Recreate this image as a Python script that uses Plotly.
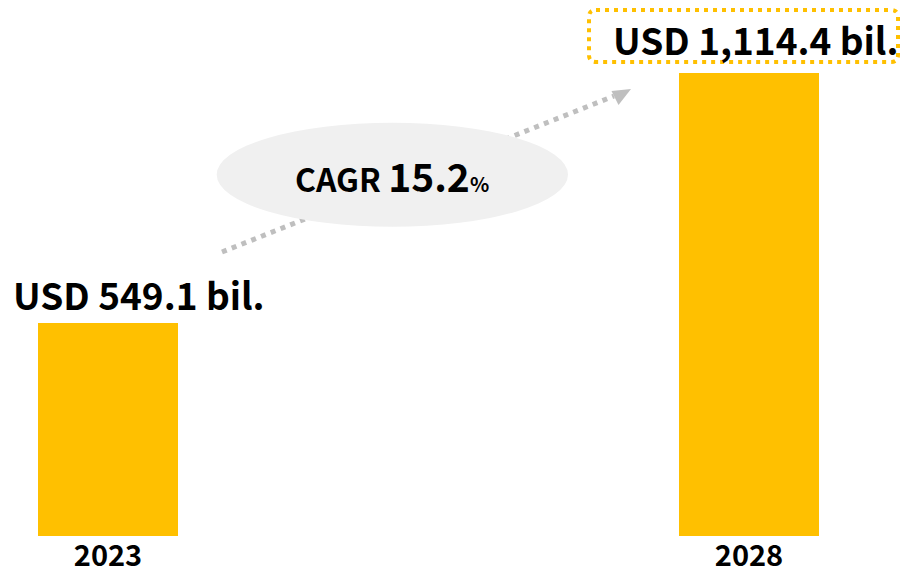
import plotly.graph_objects as go

years = ["2023", "2028"]
market_usd_bil = [549.1, 1114.4]
value_labels = ["USD 549.1 bil.", "USD 1,114.4 bil."]
cagr_label = "CAGR"
cagr_value = "15.2"

W, H = 903, 573
MB = 37
PH = H - MB  # plot height in px

def px(x):
    return x / W

def py(y):
    return (PH - y) / PH

FONT = "Noto Sans CJK KR"
BAR = "#FFC000"

fig = go.Figure()
fig.add_trace(go.Bar(
    x=years, y=market_usd_bil, marker=dict(color=BAR, line=dict(width=0)),
    width=140 / 641, hoverinfo="skip",
))

shapes = []
# dotted arrow line (drawn first, under ellipse)
shapes.append(dict(type="line", xref="paper", yref="paper",
                   x0=px(222), y0=py(252), x1=px(614), y1=py(96),
                   line=dict(color="#BFBFBF", width=5, dash="5px,5.5px"), layer="above"))
# arrow head
shapes.append(dict(type="path", xref="paper", yref="paper",
                   path=f"M {px(611.5)} {py(91)} L {px(631)} {py(89)} L {px(618.5)} {py(105)} Z",
                   fillcolor="#BFBFBF", line=dict(width=0), layer="above"))
# ellipse
shapes.append(dict(type="circle", xref="paper", yref="paper",
                   x0=px(216.7), x1=px(568), y0=py(226.7), y1=py(122.7),
                   fillcolor="#F0F0F0", line=dict(width=0), layer="above"))
# dotted rounded box
x0, x1, y0, y1, r = 589, 898, 10, 62, 7
path = (f"M {px(x0+r)} {py(y0)} L {px(x1-r)} {py(y0)} "
        f"Q {px(x1)} {py(y0)} {px(x1)} {py(y0+r)} L {px(x1)} {py(y1-r)} "
        f"Q {px(x1)} {py(y1)} {px(x1-r)} {py(y1)} L {px(x0+r)} {py(y1)} "
        f"Q {px(x0)} {py(y1)} {px(x0)} {py(y1-r)} L {px(x0)} {py(y0+r)} "
        f"Q {px(x0)} {py(y0)} {px(x0+r)} {py(y0)} Z")
shapes.append(dict(type="path", xref="paper", yref="paper", path=path,
                   line=dict(color=BAR, width=4, dash="4px,5px"), layer="above"))

annotations = [
    dict(xref="paper", yref="paper", x=px(139), y=py(294), text=value_labels[0],
         showarrow=False, xanchor="center", yanchor="middle",
         font=dict(family=FONT, size=37, color="#000000", weight="bold")),
    dict(xref="paper", yref="paper", x=px(755.5), y=py(39), text=value_labels[1],
         showarrow=False, xanchor="center", yanchor="middle",
         font=dict(family=FONT, size=37, color="#000000", weight="bold")),
    dict(xref="paper", yref="paper", x=px(391.5), y=py(175),
         text=f"{cagr_label} <span style='font-size:39px'>{cagr_value}</span><span style='font-size:20px'>%</span>",
         showarrow=False, xanchor="center", yanchor="middle",
         font=dict(family=FONT, size=32, color="#000000", weight="bold")),
]

base = 66.8
scale = 0.44225
top = base + PH / scale

fig.update_layout(
    width=W, height=H,
    margin=dict(l=0, r=0, t=0, b=MB, pad=0, autoexpand=False),
    paper_bgcolor="white", plot_bgcolor="white",
    showlegend=False,
    shapes=shapes, annotations=annotations,
    xaxis=dict(type="category", range=[-108 / 641, (W - 108) / 641],
               showgrid=False, zeroline=False, showline=False, ticks="",
               automargin=False, ticklabelstandoff=0,
               tickfont=dict(family=FONT, size=29, color="#000000", weight="bold"),
               fixedrange=True),
    yaxis=dict(range=[base, top], visible=False, fixedrange=True, automargin=False),
    bargap=0,
)

fig.write_html("out.html", config=dict(displayModeBar=False),
               post_script="document.body.style.margin='0';document.body.style.overflow='hidden';")
